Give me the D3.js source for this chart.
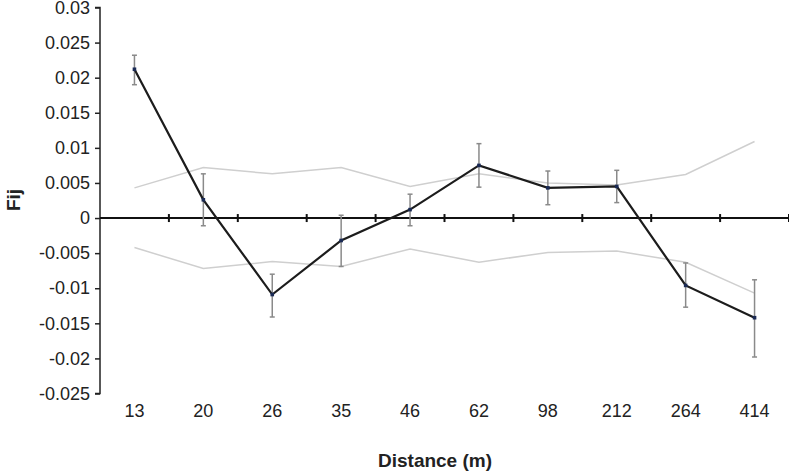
<!DOCTYPE html>
<html>
<head>
<meta charset="utf-8">
<script src="https://cdn.jsdelivr.net/npm/d3@7"></script>
<style>
body{margin:0;background:#fff;}
svg text{font-family:"Liberation Sans",Arial,sans-serif;fill:#222;}
</style>
</head>
<body>
<div id="chart"></div>
<script>
// distance classes and Fij values
var distances = ["13","20","26","35","46","62","98","212","264","414"];
var fij      = [0.0212, 0.0026, -0.0109, -0.0032, 0.0012, 0.0075, 0.0043, 0.0045, -0.0096, -0.0142];
var errTop   = [0.0232, 0.0063, -0.0080, 0.0004, 0.0034, 0.0106, 0.0067, 0.0068, -0.0064, -0.0088];
var errBot   = [0.0190, -0.0011, -0.0141, -0.0069, -0.0011, 0.0044, 0.0019, 0.0022, -0.0127, -0.0198];
var ciUpper  = [0.0043, 0.0072, 0.0063, 0.0072, 0.0045, 0.0063, 0.0050, 0.0047, 0.0062, 0.0109];
var ciLower  = [-0.0042, -0.0072, -0.0062, -0.0069, -0.0044, -0.0063, -0.0049, -0.0047, -0.0063, -0.0107];
var yTicks   = [0.03,0.025,0.02,0.015,0.01,0.005,0,-0.005,-0.01,-0.015,-0.02,-0.025];

var W=789, H=472;
var svg=d3.select("#chart").append("svg").attr("width",W).attr("height",H);

var x=d3.scaleBand().domain(distances).range([100,789]);
var y=d3.scaleLinear().domain([-0.025,0.03]).range([393.5,7.5]);
var cx=function(i){return x(distances[i])+x.bandwidth()/2;};

// y axis
var yAxis=d3.axisLeft(y).tickValues(yTicks).tickSize(5).tickPadding(5)
	.tickFormat(function(d){return d===0?"0":String(+d.toFixed(3));});
var gy=svg.append("g").attr("transform","translate(100,0)").call(yAxis);
gy.select(".domain").attr("stroke","#222").attr("stroke-width",1.5).attr("d","M-5,7.5H0V393.5H-5");
gy.selectAll(".tick line").attr("stroke","#222").attr("stroke-width",1.5);
gy.selectAll(".tick text").attr("font-size","18px").attr("fill","#222")
	.attr("font-family","Liberation Sans,Arial,sans-serif");

// x axis along zero
var y0=y(0);
svg.append("line").attr("x1",100).attr("x2",789).attr("y1",y0).attr("y2",y0)
	.attr("stroke","#111").attr("stroke-width",2);
svg.selectAll(".xtick").data(distances).enter().append("line")
	.attr("x1",function(d){return x(d)+x.bandwidth();}).attr("x2",function(d){return x(d)+x.bandwidth();})
	.attr("y1",y0-4).attr("y2",y0+4).attr("stroke","#111").attr("stroke-width",2);

// x tick labels
svg.selectAll(".xlab").data(distances).enter().append("text")
	.attr("x",function(d){return x(d)+x.bandwidth()/2;}).attr("y",417)
	.attr("text-anchor","middle").attr("font-size","18px").text(function(d){return d;});

// envelope lines
var line=d3.line().x(function(d,i){return cx(i);}).y(function(d){return y(d);});
[ciUpper,ciLower].forEach(function(arr){
	svg.append("path").datum(arr).attr("d",line).attr("fill","none")
		.attr("stroke","#cfcfcf").attr("stroke-width",1.5);
});

// error bars
var eb=svg.selectAll(".eb").data(fij).enter().append("g");
eb.append("line").attr("x1",function(d,i){return cx(i);}).attr("x2",function(d,i){return cx(i);})
	.attr("y1",function(d,i){return y(errTop[i]);}).attr("y2",function(d,i){return y(errBot[i]);})
	.attr("stroke","#8a8a8a").attr("stroke-width",1.5);
[errTop,errBot].forEach(function(arr){
	eb.append("line").attr("x1",function(d,i){return cx(i)-2.5;}).attr("x2",function(d,i){return cx(i)+2.5;})
		.attr("y1",function(d,i){return y(arr[i]);}).attr("y2",function(d,i){return y(arr[i]);})
		.attr("stroke","#8a8a8a").attr("stroke-width",1.5);
});

// Fij line
svg.append("path").datum(fij).attr("d",line).attr("fill","none")
	.attr("stroke","#1c1c1c").attr("stroke-width",2.2);
svg.selectAll(".pt").data(fij).enter().append("rect")
	.attr("x",function(d,i){return cx(i)-1.8;}).attr("y",function(d){return y(d)-1.8;})
	.attr("width",3.6).attr("height",3.6).attr("fill","#1a2a55");

// axis titles
svg.append("text").attr("x",435).attr("y",467).attr("text-anchor","middle")
	.attr("font-size","19px").attr("font-weight","bold").text("Distance (m)");
svg.append("text").attr("transform","translate(20,200) rotate(-90)").attr("text-anchor","middle")
	.attr("font-size","19px").attr("font-weight","bold").text("Fij");
</script>
</body>
</html>
